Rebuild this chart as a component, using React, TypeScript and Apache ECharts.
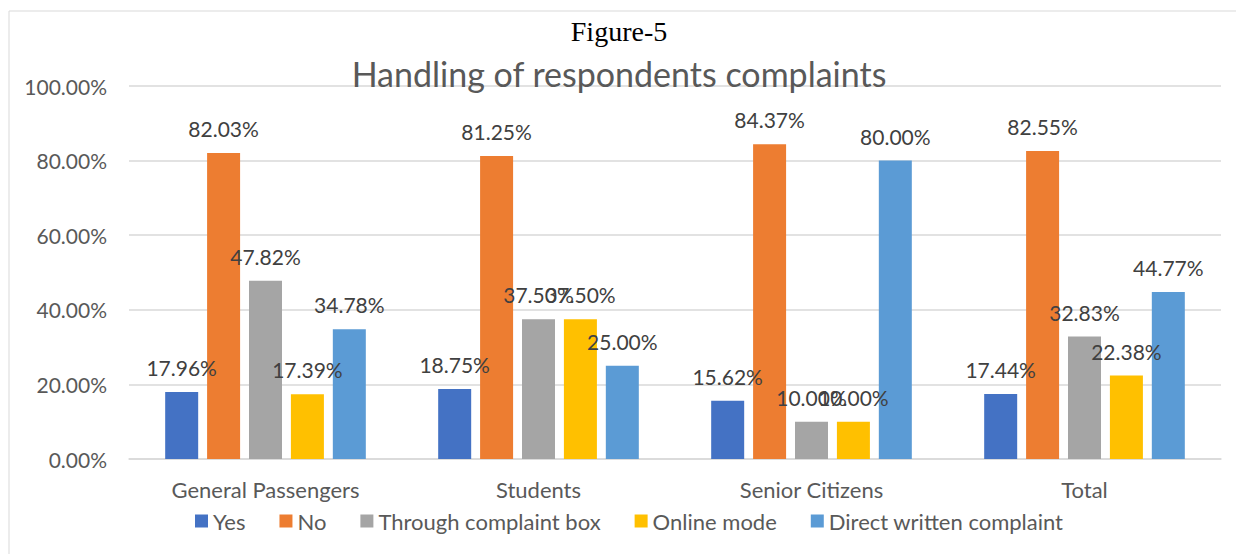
import React, { useEffect, useRef } from "react";
import * as echarts from "echarts";

const categories = ["General Passengers", "Students", "Senior Citizens", "Total"];
const seriesNames = ["Yes", "No", "Through complaint box", "Online mode", "Direct written complaint"];
const yesValues = [17.96, 18.75, 15.62, 17.44];
const noValues = [82.03, 81.25, 84.37, 82.55];
const boxValues = [47.82, 37.5, 10.0, 32.83];
const onlineValues = [17.39, 37.5, 10.0, 22.38];
const writtenValues = [34.78, 25.0, 80.0, 44.77];
const colors = ["#4472C4", "#ED7D31", "#A5A5A5", "#FFC000", "#5B9BD5"];

const FONT = "Lato, 'Open Sans', sans-serif";

export default function App() {
  const ref = useRef<HTMLDivElement>(null);
  useEffect(() => {
    if (!ref.current) return;
    const chart = echarts.init(ref.current, undefined, { renderer: "svg" });
    const allValues = [yesValues, noValues, boxValues, onlineValues, writtenValues];
    chart.setOption({
      animation: false,
      textStyle: { fontFamily: FONT },
      title: [
        {
          text: "Figure-5",
          left: 611,
          textAlign: "center",
          top: 9,
          padding: 0,
          textStyle: { fontFamily: "'Liberation Serif', serif", fontSize: 28, fontWeight: "normal", color: "#000" },
        },
        {
          text: "Handling of respondents complaints",
          left: 611,
          textAlign: "center",
          top: 48,
          padding: 0,
          textStyle: { fontFamily: FONT, fontSize: 34, fontWeight: "normal", color: "#595959" },
        },
      ],
      graphic: [
        {
          type: "rect",
          shape: { x: 1, y: 3, width: 1240, height: 600 },
          style: { fill: "none", stroke: "#D9D9D9", lineWidth: 1 },
          silent: true,
        },
      ],
      legend: {
        data: seriesNames,
        top: 497,
        left: 182,
        itemWidth: 13,
        itemHeight: 13,
        itemGap: 34,
        icon: "rect",
        textStyle: { fontFamily: FONT, fontSize: 22, color: "#595959" },
      },
      grid: { left: 121, right: 23, top: 78, bottom: 95 },
      xAxis: {
        type: "category",
        data: categories,
        axisLine: { lineStyle: { color: "#D9D9D9", width: 1.5 } },
        axisTick: { show: false },
        axisLabel: { fontFamily: FONT, fontSize: 22, color: "#595959", margin: 19 },
      },
      yAxis: {
        type: "value",
        min: 0,
        max: 100,
        interval: 20,
        axisLine: { show: false },
        axisTick: { show: false },
        splitLine: { lineStyle: { color: "#D9D9D9", width: 1.5 } },
        axisLabel: {
          fontFamily: FONT,
          fontSize: 21,
          color: "#595959",
          margin: 22,
          formatter: (v: number) => v.toFixed(2) + "%",
        },
      },
      series: seriesNames.map((name, i) => ({
        name,
        type: "bar",
        data: allValues[i],
        barWidth: 33,
        barGap: "27%",
        itemStyle: { color: colors[i] },
        label: {
          show: true,
          position: "top",
          distance: 14,
          fontFamily: FONT,
          fontSize: 21,
          color: "#404040",
          formatter: (p: any) => Number(p.value).toFixed(2) + "%",
        },
      })),
    });
    return () => chart.dispose();
  }, []);
  return <div ref={ref} style={{ width: 1236, height: 546 }} />;
}
